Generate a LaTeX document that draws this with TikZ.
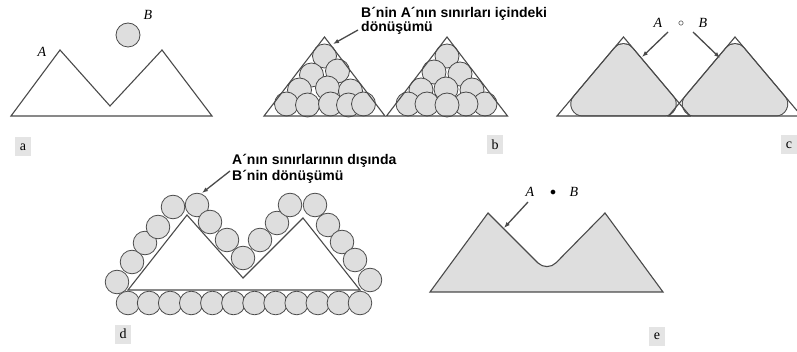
\documentclass[tikz,border=0pt]{standalone}
\usepackage{fontspec}
\setmainfont{Liberation Serif}
\newfontfamily\lblfont{Liberation Sans}
\usetikzlibrary{calc,arrows.meta}
\definecolor{ink}{HTML}{4A4A4A}
\definecolor{diskgray}{HTML}{DEDEDE}
\definecolor{tagbg}{HTML}{E4E4E4}
\tikzset{
  outline/.style={draw=ink, line width=1.1pt, line join=miter},
  disk/.style={fill=diskgray, draw=ink, line width=0.8pt},
  ptr/.style={draw=ink, line width=1.3pt, -{Latex[length=6pt,width=4.5pt]}},
  tag/.style={fill=tagbg, inner sep=0pt, minimum width=16pt, minimum height=19pt, font=\fontsize{14}{14}\selectfont},
  note/.style={font=\lblfont\bfseries\fontsize{14}{14}\selectfont, anchor=base west, inner sep=0pt},
  sym/.style={font=\itshape\fontsize{14}{14}\selectfont, inner sep=0pt},
}
\begin{document}
\begin{tikzpicture}[x=1pt,y=-1pt]
\useasboundingbox (0,0) rectangle (797,352);

% ---------- panel a ----------
\draw[outline] (11,116) -- (60,50) -- (110,106) -- (162,50) -- (212,116) -- cycle;
\path[disk] (128,35) circle[radius=12pt];
\node[sym] (aA) at (42,52) {A};
\node[sym] (aB) at (148,15) {B};
\node[tag] (ta) at (23,147) {a};

% ---------- panel b ----------
\foreach \u/\v in {0/56, 13/71, -13/75, -25/90, 3/88, 26/91, -38/104, -17/105, 6/104, 24/105, 39/104}{
  \path[disk] (324.5+\u,\v) circle[radius=12pt];
}
\foreach \u/\v in {0/56, -13/72, 13/74, 25/90, -26/90, -1/89, 38/104, -39/104, 19/104, -20/104, 0/105}{
  \path[disk] (447+\u,\v) circle[radius=12pt];
}
\draw[outline] (264,116) -- (324.5,37) -- (385,116) -- cycle;
\draw[outline] (386.5,116) -- (447,37) -- (507.5,116) -- cycle;
\node[note] (bl1) at (361,18) {B´nin A´nın sınırları içindeki};
\node[note] (bl2) at (361,31.5) {dönüşümü};
\coordinate (bS) at (358,30);
\coordinate (bT) at (333,44);
\draw[ptr] (bS) -- (bT);
\node[tag] (tb) at (495,145) {b};

% ---------- panel c ----------
\foreach \ax in {623.5, 735}{
  \coordinate (I) at (\ax,85.05);
  \coordinate (V1) at ($(I)!0.6123!(\ax-66.5,116)$);
  \coordinate (V2) at ($(I)!0.6123!(\ax,37)$);
  \coordinate (V3) at ($(I)!0.6123!(\ax+66.5,116)$);
  \draw[draw=ink, line width=25pt, line join=round] (V1) -- (V2) -- (V3) -- cycle;
}
\foreach \ax in {623.5, 735}{
  \coordinate (I) at (\ax,85.05);
  \coordinate (V1) at ($(I)!0.6123!(\ax-66.5,116)$);
  \coordinate (V2) at ($(I)!0.6123!(\ax,37)$);
  \coordinate (V3) at ($(I)!0.6123!(\ax+66.5,116)$);
  \draw[draw=diskgray, fill=diskgray, line width=23pt, line join=round] (V1) -- (V2) -- (V3) -- cycle;
}
\draw[outline] (557,116) -- (623.5,37) -- (690,116) -- cycle;
\draw[outline] (668.5,116) -- (735,37) -- (801.5,116) -- cycle;
\node[sym] (cA) at (658,23) {A};
\node[inner sep=0pt, font=\fontsize{12}{12}\selectfont] (cO) at (681,24) {$\circ$};
\node[sym] (cB) at (703,23) {B};
\coordinate (cS1) at (668,32);
\coordinate (cT1) at (642,57);
\coordinate (cS2) at (693,32);
\coordinate (cT2) at (720,58);
\draw[ptr] (cS1) -- (cT1);
\draw[ptr] (cS2) -- (cT2);
\node[tag] (tc) at (789,145) {c};

% ---------- panel d ----------
\foreach \x/\y in {117/282, 132/262, 145/243, 158/227, 173/207, 197/205, 210/222, 227/240, 243/258, 260/240, 277/223, 290/205, 315/205, 328/225, 342/242, 355/260, 370/280}{
  \path[disk] (\x,\y) circle[radius=11.8pt];
}
\foreach \i in {0,...,11}{
  \path[disk] (128+21.09*\i,303) circle[radius=11.8pt];
}
\draw[outline] (128,290) -- (187,215) -- (243,278) -- (303,218) -- (360,290) -- cycle;
\node[note] (dl1) at (232,165) {A´nın sınırlarının dışında};
\node[note] (dl2) at (232,181) {B´nin dönüşümü};
\coordinate (dS) at (230,171);
\coordinate (dT) at (202,193);
\draw[ptr] (dS) -- (dT);
\node[tag] (td) at (123,334) {d};

% ---------- panel e ----------
\filldraw[fill=diskgray, draw=ink, line width=1.1pt] (430,292) -- (488,213) [rounded corners=13pt] -- (547,272) [sharp corners] -- (605,213) -- (663,292) -- cycle;
\node[sym] (eA) at (530,192) {A};
\node[inner sep=0pt, font=\fontsize{12}{12}\selectfont] (eO) at (553,193) {$\bullet$};
\node[sym] (eB) at (574,192) {B};
\coordinate (eS) at (528,202);
\coordinate (eT) at (504,228);
\draw[ptr] (eS) -- (eT);
\node[tag] (te) at (657,336) {e};
\end{tikzpicture}
\end{document}
